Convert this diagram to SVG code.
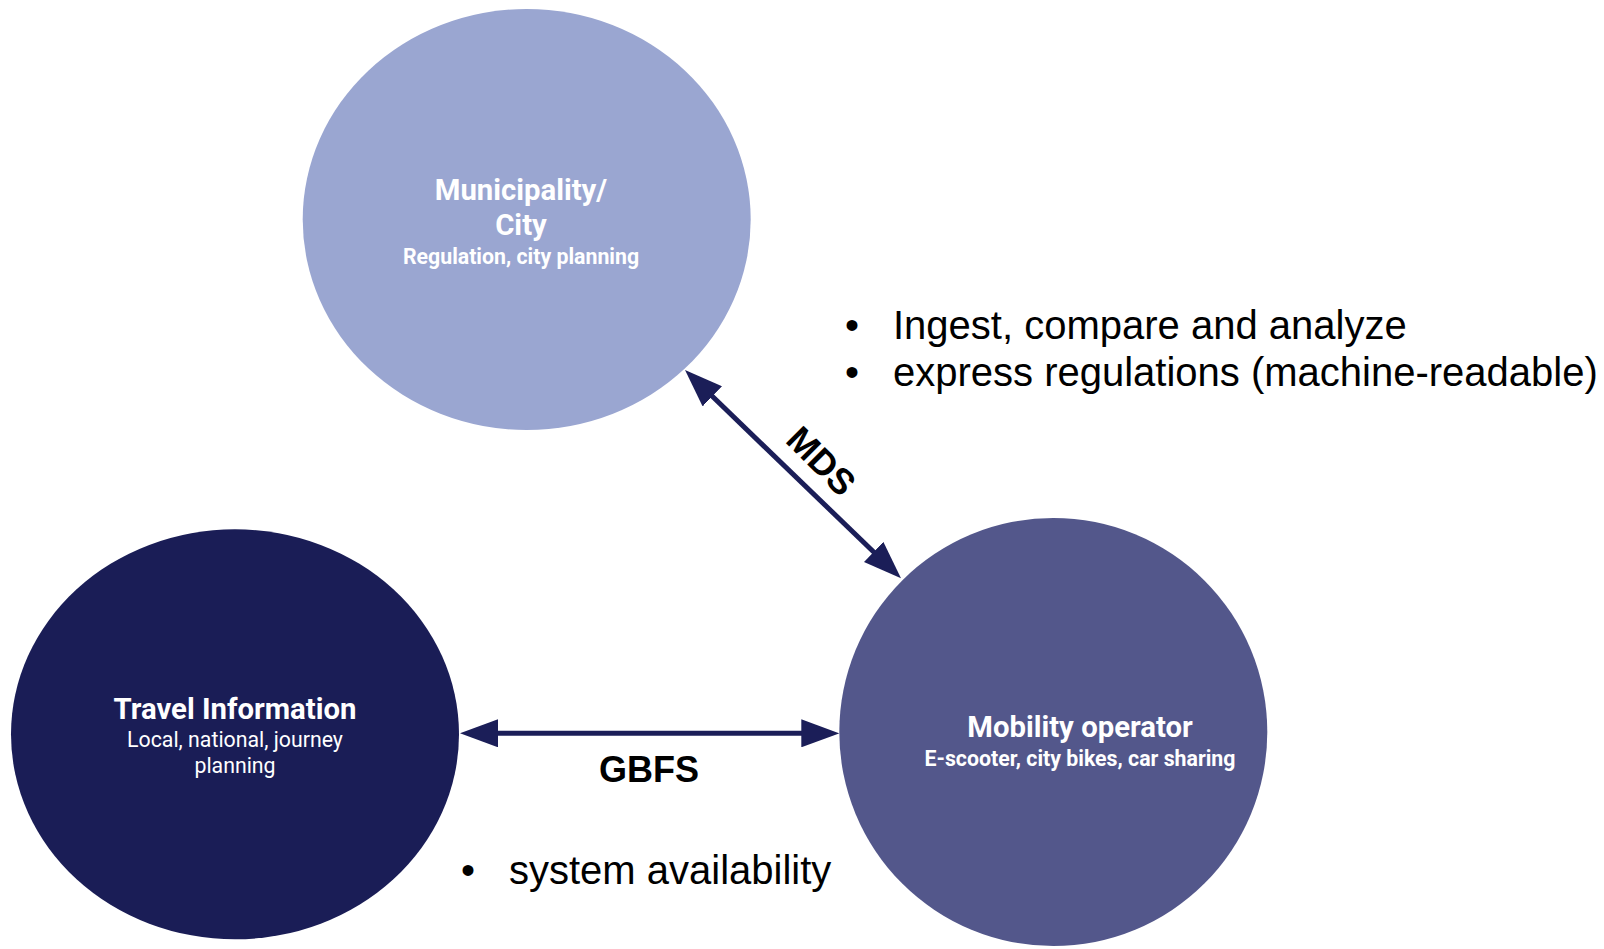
<svg xmlns="http://www.w3.org/2000/svg" width="1604" height="949" viewBox="0 0 1604 949">
<style>
.title{font-family:Roboto,"Liberation Sans",sans-serif;font-weight:700;fill:#ffffff;text-anchor:middle}
.sub{font-family:Roboto,"Liberation Sans",sans-serif;fill:#ffffff;text-anchor:middle}
.lbl{font-family:"Liberation Sans",Arial,sans-serif;font-weight:700;font-size:36px;fill:#000000}
.bul{font-family:"Liberation Sans",Arial,sans-serif;font-size:40px;fill:#000000}
.conn{stroke:#1b1e58;stroke-width:5;fill:none}
</style>
<defs>
<marker id="ah" viewBox="0 0 38 28" refX="8" refY="14" markerWidth="38" markerHeight="28" markerUnits="userSpaceOnUse" orient="auto-start-reverse">
<path d="M0,0 L38,14 L0,28 Z" fill="#1b1e58"/>
</marker>
</defs>
<rect width="1604" height="949" fill="#ffffff"/>
<g id="node-city">
<ellipse cx="526.7" cy="219.5" rx="224" ry="210.5" fill="#9aa6d1"/>
<text class="title" x="521" y="200" font-size="29.3">Municipality/</text>
<text class="title" x="521" y="235" font-size="29.3">City</text>
<text class="title" x="521" y="264" font-size="21.3">Regulation, city planning</text>
</g>
<g id="node-travel">
<ellipse cx="235" cy="734.3" rx="224" ry="205" fill="#1a1d56"/>
<text class="title" x="235" y="719" font-size="29.3">Travel Information</text>
<text class="sub" x="235" y="746.5" font-size="21.3">Local, national, journey</text>
<text class="sub" x="235" y="772.5" font-size="21.3">planning</text>
</g>
<g id="node-operator">
<ellipse cx="1053.3" cy="732" rx="214" ry="214" fill="#53578b"/>
<text class="title" x="1080" y="736.5" font-size="29.3">Mobility operator</text>
<text class="title" x="1080" y="766" font-size="21.3">E-scooter, city bikes, car sharing</text>
</g>
<g id="connectors">
<path class="conn" d="M706.6,390.8 L879.4,557.5" marker-start="url(#ah)" marker-end="url(#ah)"/>
<path class="conn" d="M490,733.3 L809.3,733.3" marker-start="url(#ah)" marker-end="url(#ah)"/>
<text class="lbl" transform="translate(821.7,460.7) rotate(45)" text-anchor="middle" y="13">MDS</text>
<text class="lbl" x="649" y="781.5" text-anchor="middle">GBFS</text>
</g>
<g id="notes">
<text class="bul" x="845" y="339">•</text>
<text class="bul" x="893" y="339">Ingest, compare and analyze</text>
<text class="bul" x="845" y="386">•</text>
<text class="bul" x="893" y="386">express regulations (machine-readable)</text>
<text class="bul" x="461" y="883.5">•</text>
<text class="bul" x="509" y="883.5">system availability</text>
</g>
</svg>
